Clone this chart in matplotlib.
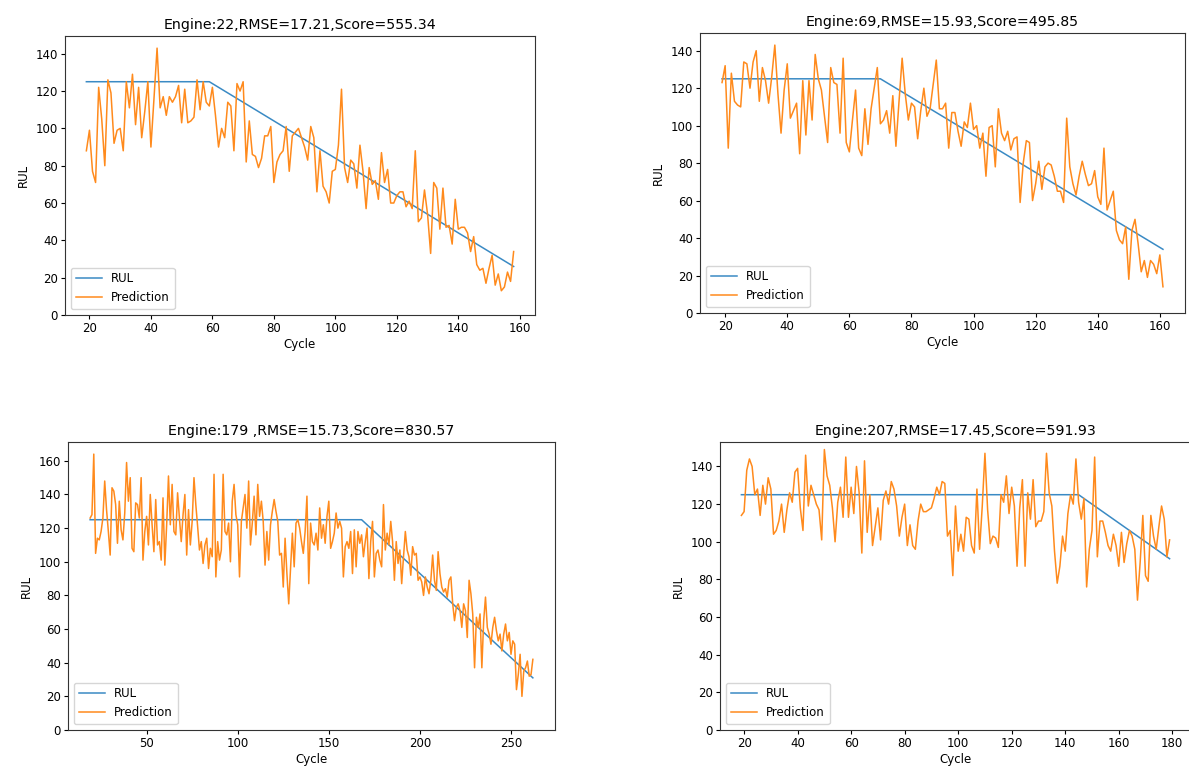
import numpy as np
import matplotlib
matplotlib.use("Agg")
import matplotlib.pyplot as plt

# --- Engine 22 ---
pred_22 = [
    88, 99, 77, 71, 122, 105, 80, 126, 119, 92,
    99, 100, 88, 125, 111, 129, 102, 122, 95, 109,
    125, 90, 116, 143, 111, 117, 107, 117, 114, 117,
    123, 103, 121, 103, 104, 106, 126, 110, 125, 114,
    112, 122, 107, 90, 100, 95, 114, 112, 88, 124,
    120, 125, 82, 104, 86, 85, 79, 84, 96, 96,
    101, 71, 82, 86, 88, 101, 77,
    96, 98, 100, 95, 90, 83, 101, 95, 66, 88,
    69, 66, 60, 77, 78, 91, 121, 79, 71, 83,
    81, 68, 91, 77, 57, 79, 70, 72, 62, 87,
    71, 78, 60, 60, 64, 66, 66, 58, 61, 57, 88,
    50, 52, 67, 54, 33, 71, 68, 46, 68, 47,
    48, 38, 62, 46, 47, 47, 44, 34, 42, 27,
    24, 25, 17, 25, 32, 16, 22, 13, 15, 23,
    18, 34,
]
rul_22_cycle = [19, 59, 158]
rul_22 = [125, 125, 26]

# --- Engine 69 ---
pred_69 = [
    123, 132, 88, 128, 113, 111, 110, 134, 133, 120,
    134, 140, 113, 131, 124, 112, 126, 143, 117, 96,
    119, 133, 104, 108, 112, 85, 124, 95, 124, 103,
    138, 125, 119, 105, 91, 131, 123, 122, 96, 136,
    91, 86, 103, 119, 88, 84, 109, 90, 109, 120,
    131, 101, 103, 108, 96, 116, 89, 113, 136, 117,
    103, 112, 110, 93, 108,
    120, 105, 109, 122, 135, 109, 109, 112, 88, 107,
    107, 97, 89, 102, 99, 112, 98, 100, 88, 96,
    73, 99, 100, 78, 109, 96, 92, 97, 87, 93,
    94, 59, 80, 92, 91, 60, 69, 81, 66, 78,
    80, 79, 73, 65, 65, 59, 104, 78, 69, 63,
    73, 81, 74, 68, 69, 76, 62, 58, 88, 55,
    60, 65, 44, 39, 37, 46, 18, 44, 50, 37,
    22, 28, 19, 28, 26, 21, 31, 14,
]
rul_69_cycle = [19, 70, 161]
rul_69 = [125, 125, 34]

# --- Engine 179 ---
pred_179 = [
    126, 128, 164, 105, 114, 113, 118, 126, 148, 131,
    118, 104, 144, 142, 134, 111, 136, 119, 113, 129,
    159, 136, 150, 108, 106, 135, 134, 126, 150, 101,
    118, 127, 110, 140, 122, 106, 137, 110, 112, 101,
    138, 98, 122, 151, 122, 146, 118, 116, 141, 126,
    112, 128, 140, 104, 131, 110, 124, 150, 134, 121,
    107, 112, 99, 110, 114, 96, 108, 103, 152,
    91, 112, 101, 107, 152, 118, 116, 123, 100, 136,
    146, 128, 122, 91, 124, 132, 140, 120, 148, 110,
    123, 139, 116, 146, 127, 136, 124, 98, 118, 101,
    122, 130, 137, 130, 124, 104, 105, 85, 114, 93,
    75, 96, 117, 97, 123, 125, 120, 112, 105, 118,
    139, 87, 123, 112, 110, 117, 107, 132, 114, 122,
    111, 127, 136, 108, 112, 117, 129, 120, 124, 120,
    91, 109, 112, 108, 118, 93, 119, 97, 118, 111,
    116, 103, 112, 120, 90, 112, 124, 91, 105, 107,
    101, 97,
    134, 107, 117, 110, 124, 112, 89, 112, 99, 107,
    87, 103, 118, 107, 103, 92, 109, 104, 105, 89,
    91, 88, 80, 91, 85, 81, 89, 104, 89, 83,
    106, 93, 85, 82, 84, 79, 89, 91, 75, 65,
    73, 75, 71, 61, 75, 71, 55, 89, 81, 69,
    37, 67, 61, 69, 37, 65, 79, 61, 57, 51,
    61, 67, 59, 53, 57, 47, 57, 63, 53, 58,
    45, 53, 51, 24, 33, 45, 20, 35, 37, 41,
    32, 33, 42,
]
rul_179_cycle = [19, 168, 262]
rul_179 = [125, 125, 31]

# --- Engine 207 ---
pred_207 = [
    114, 116, 138, 144, 140, 125, 128, 114, 130, 120,
    134, 128, 104, 106, 111, 120, 105, 117, 126, 121,
    137, 139, 118, 106, 146, 119, 130, 125, 120, 117,
    101, 149, 135, 130, 118, 100, 121, 129, 113, 145,
    113, 129, 115, 140, 126, 94, 143, 105, 125, 98,
    108, 118, 101, 122, 127, 120, 132, 128, 119, 103,
    113, 120, 98, 109, 98, 96, 111, 120, 116, 116,
    117,
    118, 123, 129, 125, 132, 131, 103, 106, 82, 119,
    95, 104, 95, 113, 112, 98, 94, 128, 96, 119,
    147, 117, 99, 103, 102, 97, 125, 121, 135, 115,
    129, 119, 87, 118, 133, 87, 126, 112, 133, 108,
    111, 111, 116, 147, 126, 119, 95, 78, 87, 103,
    95, 115, 125, 120, 144, 121, 112, 123, 76, 96,
    106, 145, 92, 111, 111, 105, 98, 95, 104, 98,
    87, 105, 89, 99, 106, 103, 96, 69, 89, 114,
    82, 79, 114, 103, 96, 108, 119, 112, 92, 101,
]
rul_207_cycle = [19, 145, 179]
rul_207 = [125, 125, 91]

W, H = 1189, 773
FS = 8.5


def add_panel(fig, box, pred, rul_cycle, rul, title):
    # box is (left, top, right, bottom) in pixels
    l, t, r, b = box
    ax = fig.add_axes([l / W, 1 - b / H, (r - l) / W, (b - t) / H])
    cycles = np.arange(19, 19 + len(pred))
    ax.plot(rul_cycle, rul, color="#3a8ac4", lw=1.1, label="RUL")
    ax.plot(cycles, pred, color="#ff8a1c", lw=1.1, label="Prediction")
    ax.set_ylim(bottom=0)
    ax.set_title(title, fontsize=10.2, pad=5)
    ax.set_xlabel("Cycle", fontsize=FS, labelpad=2)
    ax.set_ylabel("RUL", fontsize=FS, labelpad=4)
    ax.tick_params(labelsize=FS, length=3, pad=2)
    for s in ax.spines.values():
        s.set_color("#333333")
    ax.legend(loc="lower left", fontsize=FS, handlelength=2.2)
    return ax


fig = plt.figure(figsize=(W / 100, H / 100), dpi=100)

add_panel(fig, (65, 36, 535, 315), pred_22, rul_22_cycle, rul_22,
          "Engine:22,RMSE=17.21,Score=555.34")
add_panel(fig, (700, 33, 1185, 313), pred_69, rul_69_cycle, rul_69,
          "Engine:69,RMSE=15.93,Score=495.85")
add_panel(fig, (68, 442, 555, 730), pred_179, rul_179_cycle, rul_179,
          "Engine:179 ,RMSE=15.73,Score=830.57")
add_panel(fig, (720, 442, 1191, 730), pred_207, rul_207_cycle, rul_207,
          "Engine:207,RMSE=17.45,Score=591.93")

fig.savefig("out.png", dpi=100, facecolor="white")
